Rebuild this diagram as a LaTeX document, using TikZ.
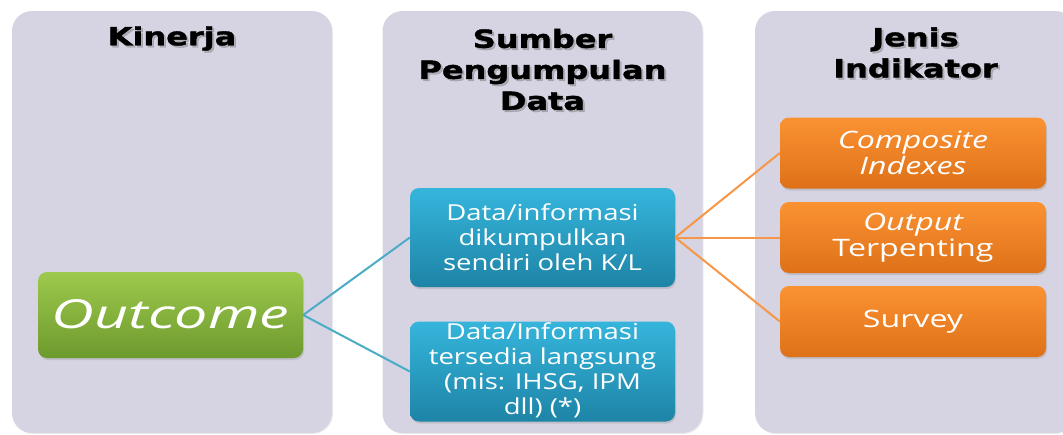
\documentclass[tikz,border=0pt]{standalone}
\usepackage{fontspec}
\setmainfont{Open Sans}[FakeStretch=1.25]
\newfontfamily\widefont{Open Sans}[FakeStretch=1.34]
\newfontfamily\bigfont{Open Sans}[FakeStretch=1.48]
\newfontfamily\headfont{DejaVu Sans}[FakeStretch=1.28, FakeBold=1.5]
\usetikzlibrary{shadows}

\definecolor{panelfill}{HTML}{D6D4E2}
\definecolor{greentop}{HTML}{9DC94D}
\definecolor{greenbot}{HTML}{6D9A2D}
\definecolor{bluetop}{HTML}{36B5DC}
\definecolor{bluebot}{HTML}{1D84A6}
\definecolor{orangetop}{HTML}{FA9232}
\definecolor{orangebot}{HTML}{DE7118}
\definecolor{blueline}{HTML}{4BACC6}
\definecolor{orangeline}{HTML}{F79646}

\tikzset{
  panel/.style={rectangle, rounded corners=20pt, fill=panelfill,
    minimum width=320pt, minimum height=422pt, inner sep=0pt,
    drop shadow={shadow xshift=1pt, shadow yshift=-1pt, opacity=0.15}},
  heading/.style={font=\headfont\bfseries\fontsize{25}{31}\selectfont,
    align=center, text=black, inner sep=0pt},
  headshadow/.style={heading, text=black!60, opacity=0.35},
  box/.style={rectangle, rounded corners=9pt, inner sep=0pt, align=center,
    text=white, font=\fontsize{22}{25}\selectfont,
    drop shadow={shadow xshift=1pt, shadow yshift=-2pt, opacity=0.25}},
  greenbox/.style={box, top color=greentop, bottom color=greenbot,
    minimum width=265pt, minimum height=86pt},
  bluebox/.style={box, top color=bluetop, bottom color=bluebot,
    minimum width=265pt},
  orangebox/.style={box, top color=orangetop, bottom color=orangebot,
    minimum width=266pt, minimum height=71pt,
    font=\widefont\fontsize{24}{26}\selectfont},
  blueconn/.style={draw=blueline, line width=2pt},
  orangeconn/.style={draw=orangeline, line width=2pt},
}

\begin{document}
\begin{tikzpicture}[x=1pt, y=-1pt]
  \useasboundingbox (0,0) rectangle (1063,434);
  \begin{scope}
    \clip (0,0) rectangle (1063,434);

    % three column panels
    \node[panel] (p1) at (172,222) {};
    \node[panel] (p2) at (542.5,222) {};
    \node[panel] (p3) at (915,222) {};

    % column headings with a soft shadow
    \node[headshadow] (h1s) at (174,40.5) {Kinerja};
    \node[heading] (h1) at (172,38.5) {Kinerja};
    \node[headshadow] (h2s) at (544.5,71.5) {Sumber\\Pengumpulan\\Data};
    \node[heading] (h2) at (542.5,69.5) {Sumber\\Pengumpulan\\Data};
    \node[headshadow] (h3s) at (917.5,54.5) {Jenis\\Indikator};
    \node[heading] (h3) at (915.5,52.5) {Jenis\\Indikator};

    % performance
    \node[greenbox] (outcome) at (170.5,315)
      {\raisebox{3pt}{\bigfont\fontsize{40}{44}\selectfont\itshape Outcome}};

    % data sources
    \node[bluebox, minimum height=99pt] (src1) at (542.5,237.5)
      {Data/informasi\\dikumpulkan\\sendiri oleh K/L};
    \node[bluebox, minimum height=97pt] (src2) at (542.5,371.5)
      {\raisebox{-3pt}{\begin{tabular}{@{}c@{}}Data/Informasi\\tersedia langsung\\(mis: IHSG, IPM\\dll) (*)\end{tabular}}};

    % indicator types
    \node[orangebox] (ind1) at (913,153) {\itshape Composite\\\itshape Indexes};
    \node[orangebox] (ind2) at (913,237.5) {\itshape Output\\Terpenting};
    \node[orangebox] (ind3) at (913,321.5) {Survey};

    % connectors
    \draw[blueconn] (outcome.east) -- (src1.west);
    \draw[blueconn] (outcome.east) -- (src2.west);
    \draw[orangeconn] (src1.east) -- (ind1.west);
    \draw[orangeconn] (src1.east) -- (ind2.west);
    \draw[orangeconn] (src1.east) -- (ind3.west);
  \end{scope}
\end{tikzpicture}
\end{document}
